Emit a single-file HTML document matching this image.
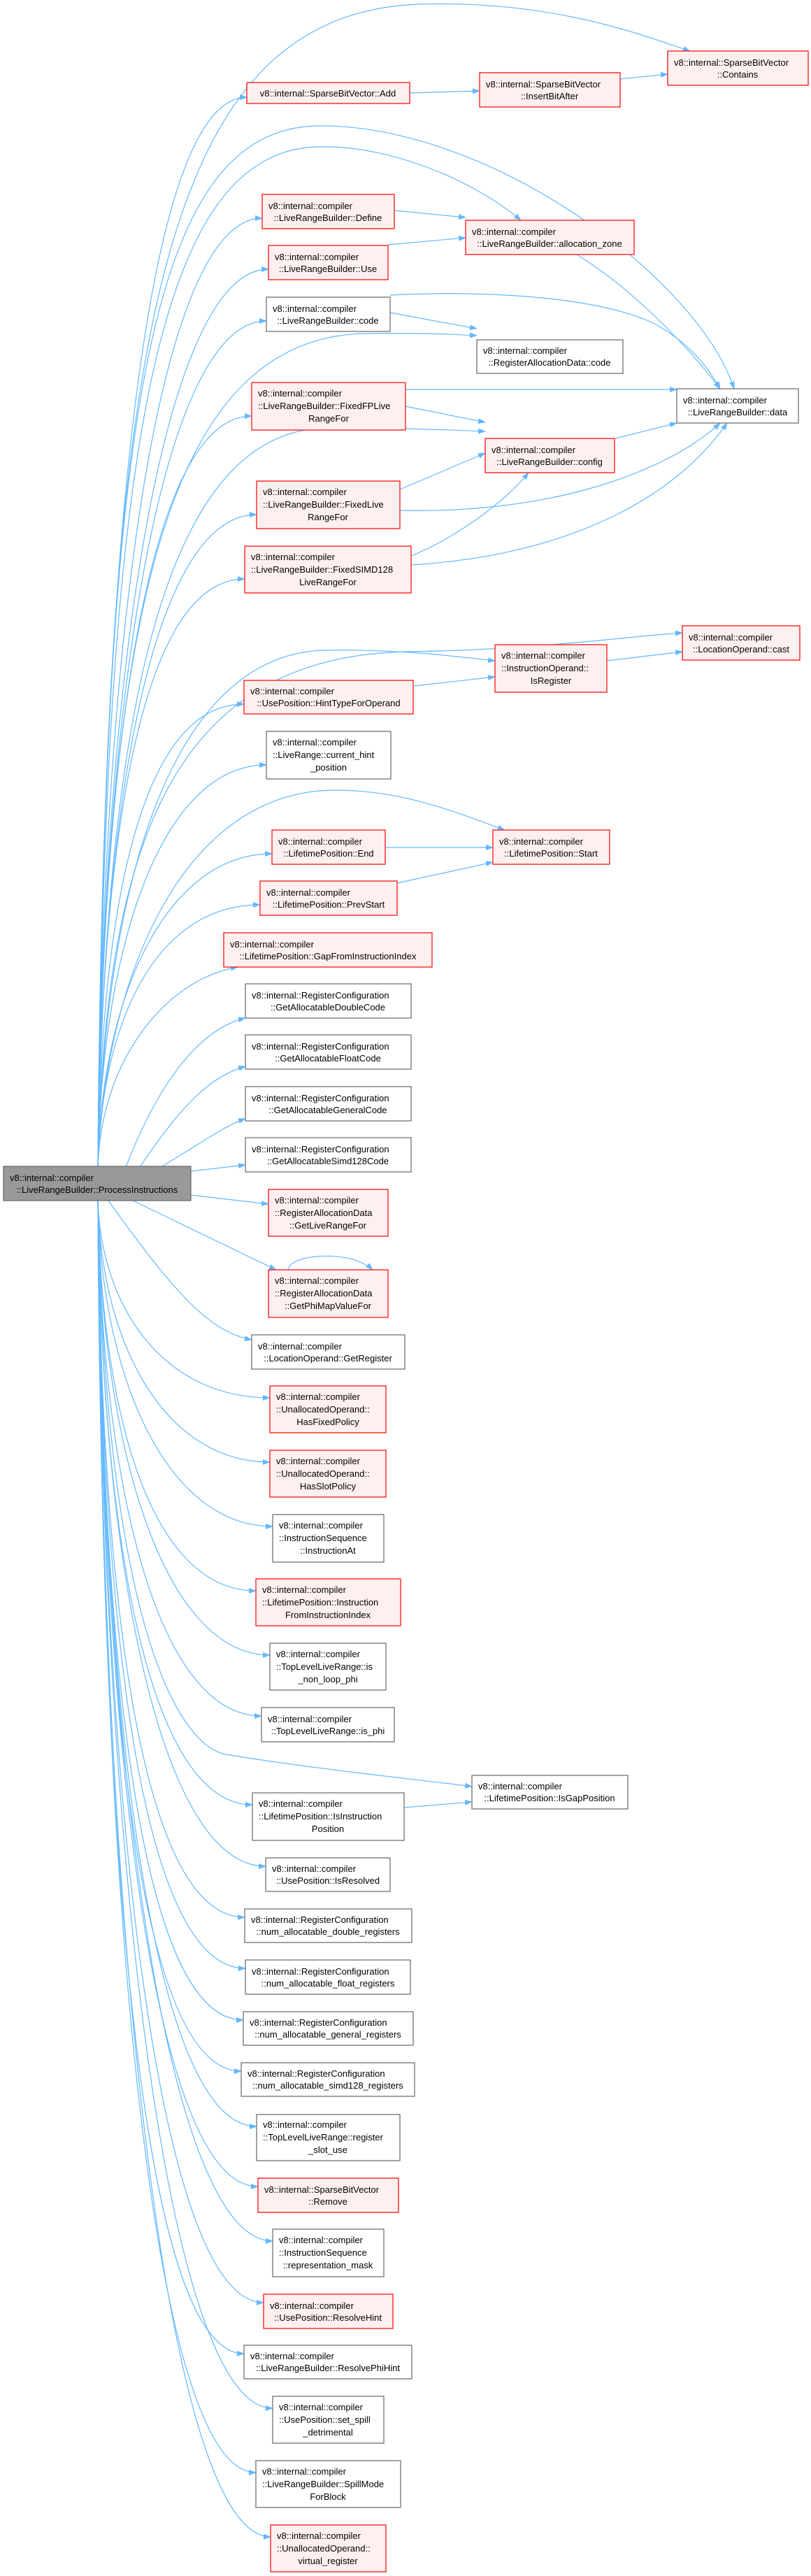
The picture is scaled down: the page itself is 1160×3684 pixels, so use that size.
<!DOCTYPE html>
<html><head><meta charset="utf-8"><style>
html,body{margin:0;padding:0;background:#fff;}
svg{display:block;}
text{font-family:"Liberation Sans",sans-serif;font-size:13px;fill:#000;}
.r{fill:#fff0f0;stroke:#ff0000;stroke-width:1.2;}
.w{fill:#fff;stroke:#666;stroke-width:1.2;}
.g{fill:#999;stroke:#666;stroke-width:1.2;}
.e{fill:none;stroke:#63b8ff;stroke-width:1.2;marker-end:url(#a);}
</style></head><body>
<svg width="1160" height="3684" viewBox="0 0 1160 3684" xmlns="http://www.w3.org/2000/svg">
<defs><marker id="a" markerWidth="11" markerHeight="8" refX="10" refY="4" orient="auto" markerUnits="userSpaceOnUse"><path d="M0,0 L11,4 L0,8 z" fill="#63b8ff"/></marker></defs>

<path class="e" d="M140,1669 C145,828 203,139 353,139"/>
<path class="e" d="M140,1669 C145,923 225,312 375,312"/>
<path class="e" d="M140,1669 C145,963 234,385 384,385"/>
<path class="e" d="M140,1669 C145,1003 231,459 381,459"/>
<path class="e" d="M140,1669 C145,1078 210,595 360,595"/>
<path class="e" d="M140,1669 C145,1156 217,736 367,736"/>
<path class="e" d="M140,1669 C145,1206 200,828 350,828"/>
<path class="e" d="M140,1669 C145,1305 199,1007 349,1007"/>
<path class="e" d="M140,1669 C145,1353 231,1094 381,1094"/>
<path class="e" d="M140,1669 C145,1423 239,1221 389,1221"/>
<path class="e" d="M140,1669 C145,1463 222,1294 372,1294"/>
<path class="e" d="M140,1669 C145,1512 240,1400 340,1383"/>
<path class="e" d="M180,1669 C230,1540 290,1470 351,1456"/>
<path class="e" d="M200,1669 C260,1580 300,1540 351,1525"/>
<path class="e" d="M230,1669 C280,1640 320,1610 351,1600"/>
<path class="e" d="M273,1675 L351,1666"/>
<path class="e" d="M140,1669 C150,500 220,20 600,6 C800,0 930,55 987,73"/>
<path class="e" d="M140,1669 C150,600 210,190 450,180 C700,175 1000,400 1050,556"/>
<path class="e" d="M140,1669 C150,650 220,215 455,210 C560,207 680,260 745,315"/>
<path class="e" d="M140,1669 C150,900 230,485 520,477 C600,476 650,478 682,480"/>
<path class="e" d="M140,1669 C150,1000 240,612 470,612 C580,612 650,615 694,617"/>
<path class="e" d="M140,1669 C150,1200 250,940 580,932 C760,930 900,910 976,905"/>
<path class="e" d="M140,1669 C150,1250 250,940 460,930 C580,928 660,940 708,945"/>
<path class="e" d="M140,1669 C150,1400 260,1130 480,1130 C580,1130 660,1165 722,1187"/>
<path class="e" d="M140,1717 C150,2300 250,2505 330,2510 C450,2530 600,2545 675,2555"/>
<path class="e" d="M273,1709 L384,1722"/>
<path class="e" d="M190,1717 L395,1816"/>
<path class="e" d="M155,1717 C250,1850 300,1905 360,1916"/>
<path class="e" d="M140,1717 C145,1872 236,1999 386,1999"/>
<path class="e" d="M140,1717 C145,1923 236,2091 386,2091"/>
<path class="e" d="M140,1717 C145,1973 240,2183 390,2183"/>
<path class="e" d="M140,1717 C145,2024 216,2275 366,2275"/>
<path class="e" d="M140,1717 C145,2075 236,2367 386,2367"/>
<path class="e" d="M140,1717 C145,2122 224,2454 374,2454"/>
<path class="e" d="M140,1717 C145,2192 211,2581 361,2581"/>
<path class="e" d="M140,1717 C145,2241 230,2669 380,2669"/>
<path class="e" d="M140,1717 C145,2281 200,2742 350,2742"/>
<path class="e" d="M140,1717 C145,2321 201,2815 351,2815"/>
<path class="e" d="M140,1717 C145,2362 198,2889 348,2889"/>
<path class="e" d="M140,1717 C145,2402 195,2962 345,2962"/>
<path class="e" d="M140,1717 C145,2445 217,3041 367,3041"/>
<path class="e" d="M140,1717 C145,2493 219,3127 369,3127"/>
<path class="e" d="M140,1717 C145,2535 240,3205 390,3205"/>
<path class="e" d="M140,1717 C145,2584 227,3293 377,3293"/>
<path class="e" d="M140,1717 C145,2624 199,3366 349,3366"/>
<path class="e" d="M140,1717 C145,2667 240,3444 390,3444"/>
<path class="e" d="M140,1717 C145,2717 216,3536 366,3536"/>
<path class="e" d="M140,1717 C145,2768 237,3628 387,3628"/>
<path class="e" d="M586,133 L686,130"/>
<path class="e" d="M887,113 L955,106"/>
<path class="e" d="M564,301 L666,311"/>
<path class="e" d="M555,350 L666,340"/>
<path class="e" d="M825,364 C900,410 980,490 1030,556"/>
<path class="e" d="M558,422 C700,415 850,425 930,460 C980,485 1010,520 1030,556"/>
<path class="e" d="M558,447 L682,470"/>
<path class="e" d="M580,557 L968,557"/>
<path class="e" d="M580,581 L694,604"/>
<path class="e" d="M880,627 L968,605"/>
<path class="e" d="M572,700 L694,648"/>
<path class="e" d="M572,730 C800,735 960,670 1030,605"/>
<path class="e" d="M588,795 C650,770 720,720 756,676"/>
<path class="e" d="M588,808 C800,795 960,720 1040,605"/>
<path class="e" d="M868,945 L976,932"/>
<path class="e" d="M592,981 L708,968"/>
<path class="e" d="M551,1212 L705,1212"/>
<path class="e" d="M568,1263 L705,1233"/>
<path class="e" d="M578,2585 L675,2577"/>
<path class="e" d="M413,1816 C410,1795 500,1785 533,1816"/>

<rect class="r" x="955" y="73" width="201" height="49"/><text x="964" y="94">v8::internal::SparseBitVector</text><text x="1055" y="111" text-anchor="middle">::Contains</text>
<rect class="r" x="353" y="118" width="233" height="30"/><text x="469" y="138" text-anchor="middle">v8::internal::SparseBitVector::Add</text>
<rect class="r" x="686" y="104" width="201" height="49"/><text x="695" y="125">v8::internal::SparseBitVector</text><text x="786" y="142" text-anchor="middle">::InsertBitAfter</text>
<rect class="r" x="375" y="278" width="189" height="49"/><text x="384" y="299">v8::internal::compiler</text><text x="469" y="316" text-anchor="middle">::LiveRangeBuilder::Define</text>
<rect class="r" x="666" y="315" width="241" height="49"/><text x="675" y="336">v8::internal::compiler</text><text x="786" y="353" text-anchor="middle">::LiveRangeBuilder::allocation_zone</text>
<rect class="r" x="384" y="351" width="171" height="49"/><text x="393" y="372">v8::internal::compiler</text><text x="469" y="389" text-anchor="middle">::LiveRangeBuilder::Use</text>
<rect class="w" x="381" y="425" width="177" height="49"/><text x="390" y="446">v8::internal::compiler</text><text x="469" y="463" text-anchor="middle">::LiveRangeBuilder::code</text>
<rect class="w" x="682" y="486" width="209" height="48"/><text x="691" y="506">v8::internal::compiler</text><text x="786" y="523" text-anchor="middle">::RegisterAllocationData::code</text>
<rect class="w" x="968" y="556" width="174" height="49"/><text x="977" y="577">v8::internal::compiler</text><text x="1055" y="594" text-anchor="middle">::LiveRangeBuilder::data</text>
<rect class="r" x="360" y="547" width="220" height="68"/><text x="369" y="567">v8::internal::compiler</text><text x="369" y="585">::LiveRangeBuilder::FixedFPLive</text><text x="470" y="603" text-anchor="middle">RangeFor</text>
<rect class="r" x="694" y="627" width="185" height="49"/><text x="703" y="648">v8::internal::compiler</text><text x="786" y="665" text-anchor="middle">::LiveRangeBuilder::config</text>
<rect class="r" x="367" y="688" width="205" height="68"/><text x="376" y="708">v8::internal::compiler</text><text x="376" y="726">::LiveRangeBuilder::FixedLive</text><text x="469" y="744" text-anchor="middle">RangeFor</text>
<rect class="r" x="350" y="781" width="238" height="67"/><text x="359" y="801">v8::internal::compiler</text><text x="359" y="819">::LiveRangeBuilder::FixedSIMD128</text><text x="469" y="837" text-anchor="middle">LiveRangeFor</text>
<rect class="r" x="976" y="895" width="168" height="49"/><text x="985" y="916">v8::internal::compiler</text><text x="1060" y="933" text-anchor="middle">::LocationOperand::cast</text>
<rect class="r" x="708" y="922" width="160" height="68"/><text x="717" y="942">v8::internal::compiler</text><text x="717" y="960">::InstructionOperand::</text><text x="788" y="978" text-anchor="middle">IsRegister</text>
<rect class="r" x="349" y="973" width="242" height="48"/><text x="358" y="993">v8::internal::compiler</text><text x="470" y="1010" text-anchor="middle">::UsePosition::HintTypeForOperand</text>
<rect class="w" x="381" y="1046" width="178" height="68"/><text x="390" y="1066">v8::internal::compiler</text><text x="390" y="1084">::LiveRange::current_hint</text><text x="470" y="1102" text-anchor="middle">_position</text>
<rect class="r" x="389" y="1187" width="162" height="49"/><text x="398" y="1208">v8::internal::compiler</text><text x="470" y="1225" text-anchor="middle">::LifetimePosition::End</text>
<rect class="r" x="705" y="1187" width="167" height="49"/><text x="714" y="1208">v8::internal::compiler</text><text x="788" y="1225" text-anchor="middle">::LifetimePosition::Start</text>
<rect class="r" x="372" y="1260" width="196" height="49"/><text x="381" y="1281">v8::internal::compiler</text><text x="470" y="1298" text-anchor="middle">::LifetimePosition::PrevStart</text>
<rect class="r" x="320" y="1334" width="298" height="49"/><text x="329" y="1355">v8::internal::compiler</text><text x="469" y="1372" text-anchor="middle">::LifetimePosition::GapFromInstructionIndex</text>
<rect class="w" x="351" y="1407" width="237" height="49"/><text x="360" y="1428">v8::internal::RegisterConfiguration</text><text x="469" y="1445" text-anchor="middle">::GetAllocatableDoubleCode</text>
<rect class="w" x="351" y="1480" width="237" height="49"/><text x="360" y="1501">v8::internal::RegisterConfiguration</text><text x="469" y="1518" text-anchor="middle">::GetAllocatableFloatCode</text>
<rect class="w" x="351" y="1554" width="237" height="49"/><text x="360" y="1575">v8::internal::RegisterConfiguration</text><text x="469" y="1592" text-anchor="middle">::GetAllocatableGeneralCode</text>
<rect class="w" x="351" y="1627" width="237" height="49"/><text x="360" y="1648">v8::internal::RegisterConfiguration</text><text x="469" y="1665" text-anchor="middle">::GetAllocatableSimd128Code</text>
<rect class="g" x="5" y="1668" width="268" height="49"/><text x="14" y="1689">v8::internal::compiler</text><text x="139" y="1706" text-anchor="middle">::LiveRangeBuilder::ProcessInstructions</text>
<rect class="r" x="384" y="1701" width="171" height="67"/><text x="393" y="1721">v8::internal::compiler</text><text x="393" y="1739">::RegisterAllocationData</text><text x="469" y="1757" text-anchor="middle">::GetLiveRangeFor</text>
<rect class="r" x="384" y="1816" width="171" height="68"/><text x="393" y="1836">v8::internal::compiler</text><text x="393" y="1854">::RegisterAllocationData</text><text x="469" y="1872" text-anchor="middle">::GetPhiMapValueFor</text>
<rect class="w" x="360" y="1909" width="219" height="49"/><text x="369" y="1930">v8::internal::compiler</text><text x="469" y="1947" text-anchor="middle">::LocationOperand::GetRegister</text>
<rect class="r" x="386" y="1982" width="166" height="67"/><text x="395" y="2002">v8::internal::compiler</text><text x="395" y="2020">::UnallocatedOperand::</text><text x="469" y="2038" text-anchor="middle">HasFixedPolicy</text>
<rect class="r" x="386" y="2074" width="166" height="67"/><text x="395" y="2094">v8::internal::compiler</text><text x="395" y="2112">::UnallocatedOperand::</text><text x="469" y="2130" text-anchor="middle">HasSlotPolicy</text>
<rect class="w" x="390" y="2166" width="159" height="68"/><text x="399" y="2186">v8::internal::compiler</text><text x="399" y="2204">::InstructionSequence</text><text x="469" y="2222" text-anchor="middle">::InstructionAt</text>
<rect class="r" x="366" y="2258" width="207" height="67"/><text x="375" y="2278">v8::internal::compiler</text><text x="375" y="2296">::LifetimePosition::Instruction</text><text x="469" y="2314" text-anchor="middle">FromInstructionIndex</text>
<rect class="w" x="386" y="2350" width="166" height="67"/><text x="395" y="2370">v8::internal::compiler</text><text x="395" y="2388">::TopLevelLiveRange::is</text><text x="469" y="2406" text-anchor="middle">_non_loop_phi</text>
<rect class="w" x="374" y="2442" width="190" height="49"/><text x="383" y="2463">v8::internal::compiler</text><text x="469" y="2480" text-anchor="middle">::TopLevelLiveRange::is_phi</text>
<rect class="w" x="675" y="2539" width="223" height="48"/><text x="684" y="2559">v8::internal::compiler</text><text x="786" y="2576" text-anchor="middle">::LifetimePosition::IsGapPosition</text>
<rect class="w" x="361" y="2564" width="217" height="68"/><text x="370" y="2584">v8::internal::compiler</text><text x="370" y="2602">::LifetimePosition::IsInstruction</text><text x="469" y="2620" text-anchor="middle">Position</text>
<rect class="w" x="380" y="2657" width="178" height="48"/><text x="389" y="2677">v8::internal::compiler</text><text x="469" y="2694" text-anchor="middle">::UsePosition::IsResolved</text>
<rect class="w" x="350" y="2730" width="239" height="48"/><text x="359" y="2750">v8::internal::RegisterConfiguration</text><text x="469" y="2767" text-anchor="middle">::num_allocatable_double_registers</text>
<rect class="w" x="351" y="2803" width="236" height="49"/><text x="360" y="2824">v8::internal::RegisterConfiguration</text><text x="469" y="2841" text-anchor="middle">::num_allocatable_float_registers</text>
<rect class="w" x="348" y="2877" width="243" height="48"/><text x="357" y="2897">v8::internal::RegisterConfiguration</text><text x="469" y="2914" text-anchor="middle">::num_allocatable_general_registers</text>
<rect class="w" x="345" y="2950" width="248" height="48"/><text x="354" y="2970">v8::internal::RegisterConfiguration</text><text x="469" y="2987" text-anchor="middle">::num_allocatable_simd128_registers</text>
<rect class="w" x="367" y="3024" width="205" height="66"/><text x="376" y="3043">v8::internal::compiler</text><text x="376" y="3061">::TopLevelLiveRange::register</text><text x="469" y="3079" text-anchor="middle">_slot_use</text>
<rect class="r" x="369" y="3115" width="201" height="49"/><text x="378" y="3136">v8::internal::SparseBitVector</text><text x="469" y="3153" text-anchor="middle">::Remove</text>
<rect class="w" x="390" y="3188" width="159" height="68"/><text x="399" y="3208">v8::internal::compiler</text><text x="399" y="3226">::InstructionSequence</text><text x="469" y="3244" text-anchor="middle">::representation_mask</text>
<rect class="r" x="377" y="3281" width="185" height="49"/><text x="386" y="3302">v8::internal::compiler</text><text x="469" y="3319" text-anchor="middle">::UsePosition::ResolveHint</text>
<rect class="w" x="349" y="3354" width="240" height="48"/><text x="358" y="3374">v8::internal::compiler</text><text x="469" y="3391" text-anchor="middle">::LiveRangeBuilder::ResolvePhiHint</text>
<rect class="w" x="390" y="3427" width="159" height="67"/><text x="399" y="3447">v8::internal::compiler</text><text x="399" y="3465">::UsePosition::set_spill</text><text x="469" y="3483" text-anchor="middle">_detrimental</text>
<rect class="w" x="366" y="3519" width="207" height="67"/><text x="375" y="3539">v8::internal::compiler</text><text x="375" y="3557">::LiveRangeBuilder::SpillMode</text><text x="469" y="3575" text-anchor="middle">ForBlock</text>
<rect class="r" x="387" y="3611" width="165" height="67"/><text x="396" y="3631">v8::internal::compiler</text><text x="396" y="3649">::UnallocatedOperand::</text><text x="469" y="3667" text-anchor="middle">virtual_register</text>
</svg>
</body></html>
